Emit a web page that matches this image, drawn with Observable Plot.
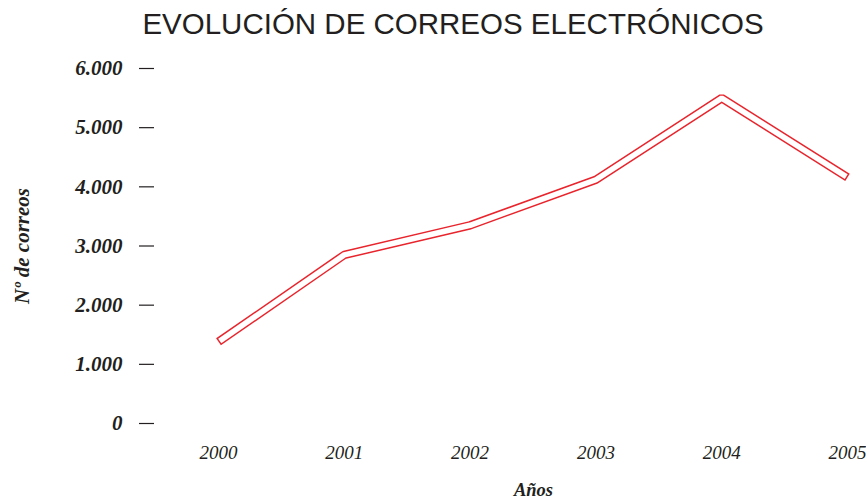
<!DOCTYPE html>
<html>
<head>
<meta charset="utf-8">
<script src="https://cdn.jsdelivr.net/npm/d3@7"></script>
<script src="https://cdn.jsdelivr.net/npm/@observablehq/plot@0.6"></script>
<style>
  html, body { margin: 0; padding: 0; background: #fff; }
  #title {
    height: 45px; width: 866px; box-sizing: border-box;
    padding-left: 40px; text-align: center; white-space: nowrap;
    font-family: "Liberation Sans", Arial, sans-serif; font-size: 29.5px;
    color: #231f20; line-height: 48px; overflow: visible;
  }
  #chart svg { display: block; }
  #chart [aria-label="y-axis tick label"] { font-weight: bold; font-style: italic; }
  #chart [aria-label="x-axis tick label"] { font-style: italic; }
  #chart [aria-label="y-axis label"] { font-weight: bold; font-style: italic; }
</style>
</head>
<body>
<div id="title">EVOLUCIÓN DE CORREOS ELECTRÓNICOS</div>
<div id="chart"></div>
<script>
const years = [2000, 2001, 2002, 2003, 2004, 2005];
const emails = [1380, 2850, 3350, 4120, 5500, 4160];
const yTicks = [0, 1000, 2000, 3000, 4000, 5000, 6000];
const xLabel = "Años";
const yLabel = "Nº de correos";

const data = years.map((y, i) => ({year: y, value: emails[i]}));
const fmt = d => d === 0 ? "0" : d3.format(",")(d).replace(/,/g, ".");

const plot = Plot.plot({
  width: 866,
  height: 456,
  marginLeft: 154,
  marginRight: 12,
  marginTop: 23,
  marginBottom: 78,
  style: {fontFamily: "'Liberation Serif', 'Times New Roman', serif", color: "#231f20", background: "#fff"},
  x: {domain: [2000, 2005], range: [218, 847]},
  y: {domain: [0, 6000]},
  marks: [
    Plot.axisY({
      ticks: yTicks, tickFormat: fmt, tickSize: 15, tickPadding: 17,
      fontSize: 21, strokeWidth: 1.2,
      label: yLabel, labelAnchor: "center", labelOffset: 140, labelArrow: "none"
    }),
    Plot.axisX({
      ticks: years, tickFormat: d => String(d), tickSize: 0, tickPadding: 22,
      fontSize: 19, label: null
    }),
    Plot.text([xLabel], {
      frameAnchor: "bottom", dx: 29, dy: 67, lineAnchor: "middle",
      fontSize: 18.5, fontWeight: "bold", fontStyle: "italic", fill: "#231f20"
    }),
    Plot.line(data, {x: "year", y: "value", stroke: "#e8242c", strokeWidth: 8.5, strokeLinecap: "butt", strokeLinejoin: "miter", className: "ribbon-outer"}),
    Plot.line(data, {x: "year", y: "value", stroke: "#ffffff", strokeWidth: 5.5, strokeLinecap: "butt", strokeLinejoin: "miter", className: "ribbon-inner"})
  ]
});
document.getElementById("chart").appendChild(plot);

// close the ribbon ends: leave a thin red border at each end of the white inner line
d3.select(plot).selectAll(".ribbon-inner path").each(function () {
  const L = this.getTotalLength();
  const e = 1.5;
  d3.select(this).attr("stroke-dasharray", `0 ${e} ${L - 2 * e} ${L + 10}`);
});
</script>
</body>
</html>
